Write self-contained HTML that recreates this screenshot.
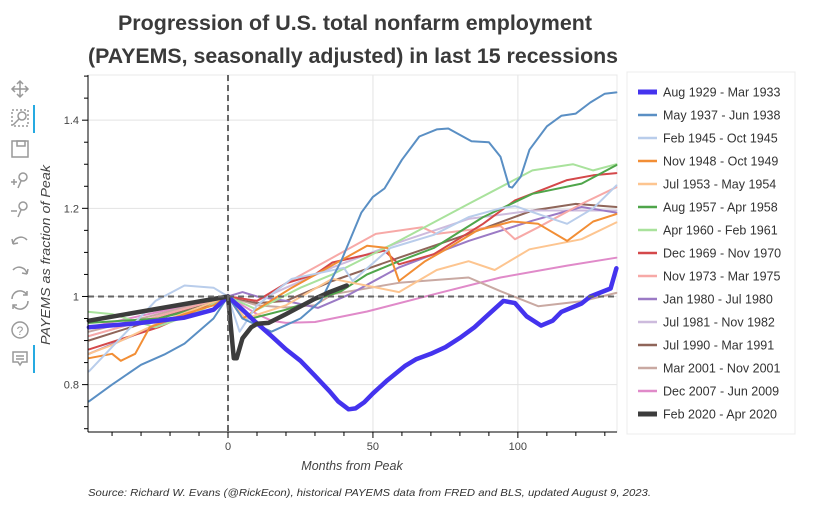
<!DOCTYPE html>
<html><head><meta charset="utf-8">
<style>
body{margin:0;background:#fff;width:814px;height:512px;overflow:hidden;font-family:"Liberation Sans",sans-serif}
svg{display:block}
</style></head>
<body>
<svg id="chart" width="814" height="512">
<text x="355" y="30" text-anchor="middle" font-size="21" font-weight="bold" fill="#3a3a3a" textLength="474" lengthAdjust="spacingAndGlyphs">Progression of U.S. total nonfarm employment</text>
<text x="353" y="63" text-anchor="middle" font-size="21" font-weight="bold" fill="#3a3a3a" textLength="530" lengthAdjust="spacingAndGlyphs">(PAYEMS, seasonally adjusted) in last 15 recessions</text>
<g id="toolbar" fill="none" stroke="#999" stroke-width="1.5">
 <g><path d="M20 81v16M12 89h16M17 84l3-3 3 3M17 94l3 3 3-3M15 86l-3 3 3 3M25 86l3 3-3 3"/></g>
 <g><rect x="12" y="110" width="16" height="16" stroke-dasharray="2 2"/><circle cx="22" cy="116" r="4"/><path d="M19 119l-6 6"/></g>
 <rect x="33" y="105" width="2" height="28" fill="#26aae1" stroke="none"/>
 <g><rect x="12" y="141" width="16" height="16"/><rect x="17" y="141" width="8" height="5"/></g>
 <g><circle cx="23" cy="177" r="4"/><path d="M21 181l-3 7M11 182h6M14 179v6"/></g>
 <g><circle cx="23" cy="206" r="4"/><path d="M21 210l-3 7M11 211h6"/></g>
 <g><path d="M13 244a8 8 0 0 1 14-4M13 244l-1-5M13 244l5-1"/></g>
 <g><path d="M27 274a8 8 0 0 0-14-4M27 274l1-5M27 274l-5-1"/></g>
 <g><path d="M12 299a8 8 0 0 1 15-4M28 301a8 8 0 0 1-15 4M27 291v4h-4M13 309v-4h4"/></g>
 <g><circle cx="20" cy="330" r="8"/><text x="20" y="335" text-anchor="middle" font-size="12" fill="#999" stroke="none">?</text></g>
 <g><path d="M13 352h14v10h-5l-2 3-2-3h-5z"/><path d="M16 356h8M16 359h8"/></g>
 <rect x="33" y="345" width="2" height="28" fill="#26aae1" stroke="none"/>
</g>
<g id="plot"></g>
<text x="352" y="470" text-anchor="middle" font-size="12.5" font-style="italic" fill="#444">Months from Peak</text>
<text transform="translate(50,255) rotate(-90)" text-anchor="middle" font-size="13" font-style="italic" fill="#444" textLength="180" lengthAdjust="spacingAndGlyphs">PAYEMS as fraction of Peak</text>
<text x="88" y="496" font-size="10.5" font-style="italic" fill="#333" textLength="563" lengthAdjust="spacingAndGlyphs">Source: Richard W. Evans (@RickEcon), historical PAYEMS data from FRED and BLS, updated August 9, 2023.</text>
<g id="legend"></g>
</svg>
<script>
// ---- data ----
const xTicks = [0, 50, 100];
const yTicks = [0.8, 1, 1.2, 1.4];
const yTickLabels = ["0.8", "1", "1.2", "1.4"];
const seriesNames = ["Aug 1929 - Mar 1933","May 1937 - Jun 1938","Feb 1945 - Oct 1945","Nov 1948 - Oct 1949","Jul 1953 - May 1954","Aug 1957 - Apr 1958","Apr 1960 - Feb 1961","Dec 1969 - Nov 1970","Nov 1973 - Mar 1975","Jan 1980 - Jul 1980","Jul 1981 - Nov 1982","Jul 1990 - Mar 1991","Mar 2001 - Nov 2001","Dec 2007 - Jun 2009","Feb 2020 - Apr 2020"];
const seriesColors = ["#4433ee","#5a8fc4","#b9cdeb","#f28e35","#fdc590","#4fa54a","#a9e29c","#d4484a","#f7a9a7","#9b7ac5","#cdbbdd","#8f6559","#c9a9a2","#e08ac9","#3c3c3c"];
const seriesWidths = [4.5,2,2,2,2,2,2,2,2,2,2,2,2,2,4.5];

const m1929 = [-48,-30,-15,-5,0,5,9,15,20,25,30,35,38,41.6,44,47,50,55,61,65,70,75,80,85,90,95,99,103,108,112,115,122,125,132,134];
const v1929 = [0.93,0.94,0.952,0.97,1.0,0.97,0.945,0.91,0.88,0.854,0.82,0.785,0.762,0.744,0.746,0.76,0.78,0.81,0.842,0.858,0.87,0.885,0.906,0.93,0.96,0.99,0.985,0.955,0.934,0.945,0.965,0.984,1.0,1.018,1.064];
const m1937 = [-48,-40,-30,-22,-15,-5,0,5,15,25,32,35,39,46,50,54,60,66,72,76,84,90,94,97,98,101,104,110,115,120,125,130,134];
const v1937 = [0.762,0.8,0.845,0.868,0.893,0.95,1.0,0.95,0.92,0.95,0.99,1.03,1.08,1.19,1.226,1.245,1.31,1.363,1.379,1.381,1.352,1.35,1.317,1.249,1.247,1.272,1.333,1.386,1.41,1.415,1.44,1.46,1.463];
const m1945 = [-48,-35,-25,-15,-5,0,4,10,22,40,43,56,71,83,94,99,107,117,126,134];
const v1945 = [0.83,0.92,0.99,1.025,1.02,1.0,0.92,0.98,1.04,1.065,1.035,1.11,1.14,1.18,1.2,1.205,1.187,1.165,1.2,1.252];
const m1948 = [-48,-40,-37,-32,-27,-15,-5,0,5,22,33,48,55,59,68,76,86,98,107,117,126,134];
const v1948 = [0.86,0.87,0.854,0.87,0.93,0.96,0.98,1.0,0.95,1.02,1.06,1.115,1.11,1.035,1.08,1.11,1.15,1.17,1.165,1.126,1.17,1.187];
const m1953 = [-48,-40,-24,0,6,20,36,59,72,83,92,104,122,134];
const v1953 = [0.87,0.89,0.94,1.0,0.95,0.98,1.04,1.01,1.06,1.08,1.06,1.107,1.13,1.168];
const m1957 = [-48,-24,-12,0,8,20,39,48,59,71,88,105,122,134];
const v1957 = [0.94,0.95,0.97,1.0,0.95,0.97,1.012,1.05,1.08,1.11,1.18,1.233,1.256,1.298];
const m1960 = [-48,-40,-25,-12,0,10,25,36,59,83,105,119,126,134];
const v1960 = [0.965,0.96,0.93,0.96,1.0,0.97,1.02,1.05,1.126,1.21,1.286,1.3,1.286,1.3];
const m1969 = [-48,-24,0,10,20,30,36,54,59,71,88,99,117,126,134];
const v1969 = [0.88,0.93,1.0,0.99,1.03,1.05,1.077,1.104,1.073,1.096,1.165,1.218,1.264,1.275,1.28];
const m1973 = [-48,0,10,20,36,51,67,72,94,99,107,122,134];
const v1973 = [0.91,1.0,0.99,1.03,1.088,1.142,1.157,1.142,1.16,1.13,1.157,1.21,1.248];
const m1980 = [-48,0,5,10,20,31,42,59,83,105,122,134];
const v1980 = [0.87,1.0,1.01,1.0,0.99,0.974,1.005,1.066,1.126,1.172,1.203,1.19];
const m1981 = [-48,0,10,20,36,59,83,105,134];
const v1981 = [0.91,1.0,0.99,1.02,1.066,1.123,1.176,1.195,1.195];
const m1990 = [-48,0,10,20,36,59,83,105,120,134];
const v1990 = [0.9,1.0,0.985,0.99,1.035,1.088,1.142,1.195,1.21,1.203];
const m2001 = [-48,0,10,20,30,36,59,83,94,107,122,134];
const v2001 = [0.92,1.0,0.98,0.975,0.98,1.005,1.031,1.043,1.012,0.978,0.989,1.008];
const m2007 = [-48,0,5,10,15,20,30,48,71,94,117,134];
const v2007 = [0.93,1.0,0.98,0.96,0.945,0.94,0.942,0.966,1.005,1.043,1.07,1.088];
const m2020 = [-48,0,2,3,5,8,10,14,20,30,35,41];
const v2020 = [0.945,1.0,0.86,0.86,0.905,0.93,0.938,0.94,0.96,0.995,1.01,1.025];

const seriesMonths = [m1929,m1937,m1945,m1948,m1953,m1957,m1960,m1969,m1973,m1980,m1981,m1990,m2001,m2007,m2020];
const seriesValues = [v1929,v1937,v1945,v1948,v1953,v1957,v1960,v1969,v1973,v1980,v1981,v1990,v2001,v2007,v2020];

// ---- axes ----
const L=88,R=617,T=75,B=432;
const xMin=-48.3,xMax=134.2,yMin=0.6925,yMax=1.5025;
const xs=m=>L+(m-xMin)/(xMax-xMin)*(R-L);
const ys=v=>B-(v-yMin)/(yMax-yMin)*(B-T);
const NS="http://www.w3.org/2000/svg";
const plot=document.getElementById('plot');
function mk(tag,attrs,parent){const e=document.createElementNS(NS,tag);for(const k in attrs)e.setAttribute(k,attrs[k]);parent.appendChild(e);return e;}

const grid=mk('g',{},plot);


xTicks.forEach(t=>{const l=mk('line',{x1:xs(t),x2:xs(t),y1:T,y2:B,stroke:'#e3e3e3'},grid);

});
yTicks.forEach(t=>{const l=mk('line',{x1:L,x2:R,y1:ys(t),y2:ys(t),stroke:'#e3e3e3'},grid);

});
mk('rect',{x:L,y:T,width:R-L,height:B-T,fill:'none',stroke:'#e8e8e8'},grid);

const lines=mk('g',{'stroke-linejoin':'round','stroke-linecap':'round',fill:'none'},plot);


for(let i=seriesNames.length-1;i>=0;i--){
  if(i===14) continue;
  drawSeries(i);
}
drawSeries(14);
function drawSeries(i){
  const ms=seriesMonths[i],vs=seriesValues[i];
  const d=ms.map((m,j)=>(j?'L':'M')+xs(m).toFixed(1)+' '+ys(vs[j]).toFixed(1)).join('');
  const p=mk('path',{d:d,stroke:seriesColors[i],'stroke-width':seriesWidths[i]},lines);
  
  
}

const refs=mk('g',{stroke:'#666','stroke-width':2,'stroke-dasharray':'6 4'},plot);


mk('line',{x1:xs(0),x2:xs(0),y1:T,y2:B},refs);
mk('line',{x1:L,x2:R,y1:ys(1),y2:ys(1)},refs);

const ax=mk('g',{stroke:'#000','stroke-width':1},plot);


mk('line',{x1:L,x2:R,y1:B,y2:B},ax);
for(let m=-40;m<=130;m+=10){mk('line',{x1:xs(m),x2:xs(m),y1:B,y2:B+(m%50===0?6:4)},ax);}
xTicks.forEach(t=>{const tx=mk('text',{x:xs(t),y:B+18,'text-anchor':'middle','font-size':11,fill:'#444',stroke:'none'},ax);tx.textContent=t;

});
const ay=mk('g',{stroke:'#000','stroke-width':1},plot);


mk('line',{x1:L,x2:L,y1:T,y2:B},ay);
for(let k=0;k<=16;k++){const v=0.7+k*0.05;if(v>yMax)break;mk('line',{x1:L-(Math.abs(v*5-Math.round(v*5))<0.01?6:4),x2:L,y1:ys(v),y2:ys(v)},ay);}
yTicks.forEach((t,j)=>{const tx=mk('text',{x:L-9,y:ys(t)+4,'text-anchor':'end','font-size':11,fill:'#444',stroke:'none'},ay);tx.textContent=yTickLabels[j];

});

// legend
const lg=document.getElementById('legend');


mk('rect',{x:627,y:72,width:168,height:362,fill:'#fff',stroke:'#ececec'},lg);
seriesNames.forEach((n,i)=>{
  const y=92+i*23;
  const g=mk('g',{},lg);
  
  
  mk('line',{x1:638,x2:657,y1:y,y2:y,stroke:seriesColors[i],'stroke-width':seriesWidths[i]===2?2.5:5},g);
  const t=mk('text',{x:663,y:y+4.5,'font-size':12.5,fill:'#333'},g);t.textContent=n;
});
</script>
</body></html>
